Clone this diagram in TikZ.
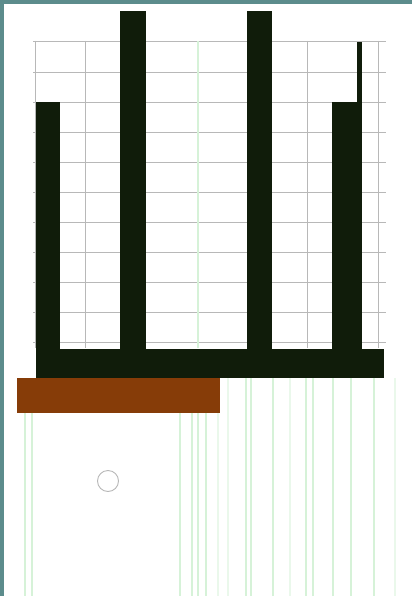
\documentclass[tikz,border=0pt]{standalone}
\usetikzlibrary{positioning}
\definecolor{frameteal}{RGB}{92,140,140}
\definecolor{combdark}{RGB}{16,28,10}
\definecolor{slabbrown}{RGB}{134,60,8}
\definecolor{guidegreen}{RGB}{214,242,216}
\tikzset{
  gridln/.style={draw=black!28,line width=0.9pt},
  guide/.style={draw=guidegreen,line width=2pt},
  faintguide/.style={draw=guidegreen!50,line width=1.6pt},
  comb/.style={fill=combdark},
  slab/.style={fill=slabbrown},
  marker/.style={draw=black!28,line width=0.9pt},
}
\begin{document}
\begin{tikzpicture}[x=1pt,y=-1pt]
  \useasboundingbox (0,0) rectangle (412,596);
  \fill[white] (0,0) rectangle (412,596);
  % frame on the left and top
  \fill[frameteal] (0,0) rectangle (412,4);
  \fill[frameteal] (0,0) rectangle (4,596);
  % grid behind the comb
  \foreach \y in {41,72,102,132,162,192,222,252,282,312,342}
    \draw[gridln] (33,\y) -- (386,\y);
  \foreach \x in {35,85,307,378}
    \draw[gridln] (\x,41) -- (\x,348);
  \draw[guide] (198,41) -- (198,348);
  % light green guides below
  \foreach \x in {25,32,180,192,198,206,246,251,273,306,313,333,351,374}
    \draw[guide] (\x,378) -- (\x,596);
  \foreach \x in {218,228,290,395}
    \draw[faintguide] (\x,378) -- (\x,596);
  % comb
  \path[comb] (36,102) rectangle (60,378);
  \path[comb] (120,11) rectangle (146,378);
  \path[comb] (247,11) rectangle (272,378);
  \path[comb] (332,102) rectangle (362,378);
  \path[comb] (357,42) rectangle (362,102);
  \path[comb] (36,349) rectangle (384,378);
  % slab
  \path[slab] (17,378) rectangle (220,413);
  % small ring
  \draw[marker] (108,481) circle (10.5);
\end{tikzpicture}
\end{document}
